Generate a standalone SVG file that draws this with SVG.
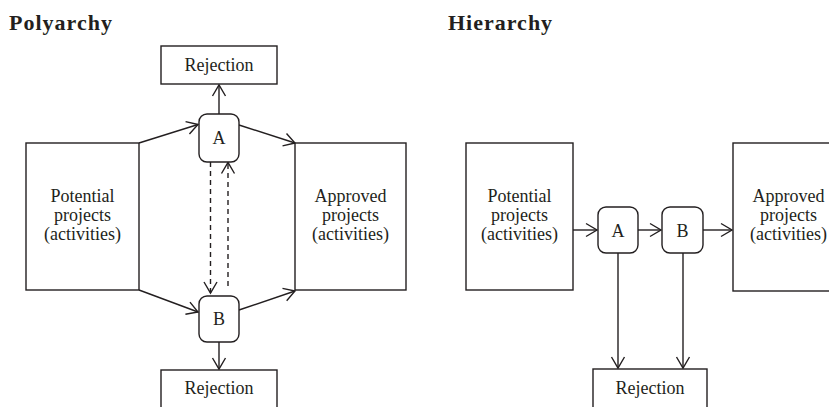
<svg xmlns="http://www.w3.org/2000/svg" width="829" height="407" viewBox="0 0 829 407">
<style>
  .box { fill: #fff; stroke: #231f20; stroke-width: 1.4; }
  .line { fill: none; stroke: #231f20; stroke-width: 1.4; }
  .dash { fill: none; stroke: #231f20; stroke-width: 1.4; stroke-dasharray: 5 4; }
  .t { font-family: "Liberation Serif", "Times New Roman", serif; font-size: 18px; fill: #231f20; text-anchor: middle; }
  .title { font-family: "Liberation Serif", "Times New Roman", serif; font-size: 22px; font-weight: bold; fill: #231f20; letter-spacing: 1px; }
</style>
<defs>
  <marker id="arr" markerUnits="userSpaceOnUse" markerWidth="16" markerHeight="16" viewBox="-13 -8 14 16" refX="0" refY="0" orient="auto">
    <path d="M -11 -6.5 L 0 0 L -11 6.5" fill="none" stroke="#231f20" stroke-width="1.4"/>
  </marker>
</defs>
<rect width="829" height="407" fill="#fff"/>

<text class="title" x="9" y="30">Polyarchy</text>
<text class="title" x="448" y="30">Hierarchy</text>

<g id="connectors">
  <!-- Polyarchy -->
  <line class="line" x1="219" y1="114" x2="219" y2="85" marker-end="url(#arr)"/>
  <line class="line" x1="139" y1="143" x2="198" y2="124.5" marker-end="url(#arr)"/>
  <line class="line" x1="239" y1="125" x2="295" y2="143" marker-end="url(#arr)"/>
  <line class="line" x1="139" y1="290" x2="198" y2="312" marker-end="url(#arr)"/>
  <line class="line" x1="239" y1="310" x2="295" y2="291" marker-end="url(#arr)"/>
  <line class="line" x1="219" y1="342" x2="219" y2="369" marker-end="url(#arr)"/>
  <line class="dash" x1="210.5" y1="162" x2="210.5" y2="293" marker-end="url(#arr)"/>
  <line class="dash" x1="228" y1="286" x2="228" y2="162.5" marker-end="url(#arr)"/>
  <!-- Hierarchy -->
  <line class="line" x1="573" y1="230" x2="597" y2="230" marker-end="url(#arr)"/>
  <line class="line" x1="638" y1="230" x2="661" y2="230" marker-end="url(#arr)"/>
  <line class="line" x1="703" y1="230" x2="732" y2="230" marker-end="url(#arr)"/>
  <line class="line" x1="618" y1="253" x2="618" y2="368" marker-end="url(#arr)"/>
  <line class="line" x1="683" y1="253" x2="683" y2="368" marker-end="url(#arr)"/>
</g>

<g id="poly-reject-top">
  <rect class="box" x="161" y="46" width="116" height="38"/>
  <text class="t" x="219" y="71">Rejection</text>
</g>
<g id="poly-potential">
  <rect class="box" x="26" y="143" width="113" height="147"/>
  <text class="t" x="82.5" y="202">Potential</text>
  <text class="t" x="82.5" y="221">projects</text>
  <text class="t" x="82.5" y="240">(activities)</text>
</g>
<g id="poly-approved">
  <rect class="box" x="295" y="143" width="111" height="147"/>
  <text class="t" x="350.5" y="202">Approved</text>
  <text class="t" x="350.5" y="221">projects</text>
  <text class="t" x="350.5" y="240">(activities)</text>
</g>
<g id="poly-A">
  <rect class="box" x="199" y="114" width="40" height="48" rx="8"/>
  <text class="t" x="219" y="144">A</text>
</g>
<g id="poly-B">
  <rect class="box" x="199" y="296" width="40" height="46" rx="8"/>
  <text class="t" x="219" y="325">B</text>
</g>
<g id="poly-reject-bottom">
  <rect class="box" x="161" y="370" width="116" height="50"/>
  <text class="t" x="219" y="394">Rejection</text>
</g>

<g id="hier-potential">
  <rect class="box" x="466" y="143" width="107" height="147"/>
  <text class="t" x="519.5" y="202">Potential</text>
  <text class="t" x="519.5" y="221">projects</text>
  <text class="t" x="519.5" y="240">(activities)</text>
</g>
<g id="hier-A">
  <rect class="box" x="598" y="207" width="40" height="46" rx="8"/>
  <text class="t" x="618" y="237">A</text>
</g>
<g id="hier-B">
  <rect class="box" x="662" y="207" width="41" height="46" rx="8"/>
  <text class="t" x="682.5" y="237">B</text>
</g>
<g id="hier-approved">
  <rect class="box" x="733" y="143" width="113" height="148"/>
  <text class="t" x="788.5" y="202">Approved</text>
  <text class="t" x="788.5" y="221">projects</text>
  <text class="t" x="788.5" y="240">(activities)</text>
</g>
<g id="hier-reject">
  <rect class="box" x="593" y="369" width="114" height="50"/>
  <text class="t" x="650" y="394">Rejection</text>
</g>
</svg>
